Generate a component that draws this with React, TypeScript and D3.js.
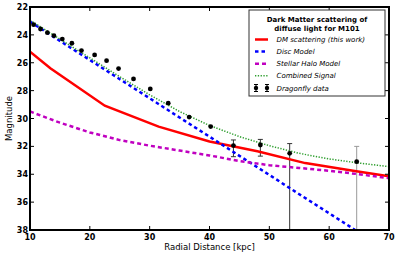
import React from "react";
import * as d3 from "d3";

// radial distance grid for model curves [kpc]
const modelX = [10, 15, 20, 25, 30, 35, 40, 45, 50, 55, 60, 65, 70];
const discModel = [23.05, 24.43, 25.8, 27.18, 28.55, 29.93, 31.3, 32.68, 34.05, 35.43, 36.8, 38.18, 39.55];
const haloModel = [29.5, 30.3, 31.0, 31.55, 31.95, 32.3, 32.65, 33.05, 33.35, 33.55, 33.75, 34.0, 34.28];
const combined = [22.95, 24.3, 25.65, 27.0, 28.3, 29.5, 30.5, 31.3, 31.95, 32.5, 32.9, 33.2, 33.45];

// DM scattering curve has its own (coarser) radial sampling
const dmX = [10, 13.4, 22.5, 31.5, 40, 48, 56, 64, 70];
const dmScatter = [25.2, 26.4, 29.08, 30.58, 31.65, 32.35, 33.2, 33.75, 34.15];

// Dragonfly profile
const dfX = [10.6, 11.75, 12.9, 14.0, 15.4, 17.0, 18.6, 20.8, 22.8, 24.8, 27.3, 30.1, 33.1, 36.6, 40.2, 44.0, 48.5, 53.4, 64.6];
const dfY = [23.27, 23.58, 23.84, 24.06, 24.3, 24.6, 25.13, 25.44, 25.85, 26.42, 27.16, 27.88, 28.9, 29.9, 30.58, 31.94, 31.9, 32.5, 33.1];
const dfErrUp = [0, 0, 0, 0, 0, 0, 0, 0, 0, 0, 0, 0, 0, 0, 0, 0.4, 0.4, 0.7, 1.1];
const dfErrDown = [0, 0, 0, 0, 0, 0, 0, 0, 0, 0, 0, 0, 0, 0, 0, 0.8, 0.8, 9, 9];

const xTicks = [10, 20, 30, 40, 50, 60, 70];
const yTicks = [22, 24, 26, 28, 30, 32, 34, 36, 38];

const legendTitle = ["Dark Matter scattering of", "diffuse light for M101"];
const legendItems = [
  { label: "DM scattering (this work)", color: "#ff0000", dash: "", width: 2.5 },
  { label: "Disc Model", color: "#0000ff", dash: "3.5,3", width: 2.5 },
  { label: "Stellar Halo Model", color: "#c000c0", dash: "4,3", width: 2.5 },
  { label: "Combined Signal", color: "#2e9e2e", dash: "1.3,1.5", width: 1.5 },
];

const W = 399;
const H = 256;
const margin = { top: 7, right: 10, bottom: 26, left: 30 };

const App = () => {
  const x = d3.scaleLinear().domain([10, 70]).range([margin.left, W - margin.right]);
  const y = d3.scaleLinear().domain([22, 38]).range([margin.top, H - margin.bottom]);

  const line = d3
    .line<[number, number]>()
    .x((d) => x(d[0]))
    .y((d) => y(d[1]));

  const series = [
    dmX.map((v, i) => [v, dmScatter[i]]),
    modelX.map((v, i) => [v, discModel[i]]),
    modelX.map((v, i) => [v, haloModel[i]]),
    modelX.map((v, i) => [v, combined[i]]),
  ];
  const font = "DejaVu Sans, sans-serif";
  const errColor = (i) => (i === dfX.length - 1 ? "#999" : "#333");

  const lx = 249;
  const ly = 10;

  return (
    <svg width={W} height={H} style={{ position: "absolute", left: 0, top: 0 }} fontFamily={font}>
      <defs>
        <clipPath id="plot">
          <rect x={x(10)} y={y(22)} width={x(70) - x(10)} height={y(38) - y(22)} />
        </clipPath>
      </defs>
      <rect width={W} height={H} fill="#fff" />

      <g clipPath="url(#plot)">
        {/* error bars */}
        {dfX.map((v, i) =>
          dfErrUp[i] > 0 ? (
            <g key={"e" + i} stroke={errColor(i)} strokeWidth={1}>
              <line x1={x(v)} x2={x(v)} y1={y(dfY[i] - dfErrUp[i])} y2={y(dfY[i] + dfErrDown[i])} />
              <line x1={x(v) - 2.5} x2={x(v) + 2.5} y1={y(dfY[i] - dfErrUp[i])} y2={y(dfY[i] - dfErrUp[i])} />
              <line x1={x(v) - 2.5} x2={x(v) + 2.5} y1={y(dfY[i] + dfErrDown[i])} y2={y(dfY[i] + dfErrDown[i])} />
            </g>
          ) : null
        )}
        {series.map((s, k) => (
          <path
            key={k}
            d={line(s)}
            fill="none"
            stroke={legendItems[k].color}
            strokeWidth={legendItems[k].width}
            strokeDasharray={legendItems[k].dash}
          />
        ))}
        {dfX.map((v, i) => (
          <circle key={"p" + i} cx={x(v)} cy={y(dfY[i])} r={2.4} fill="#000" />
        ))}
      </g>

      {/* ticks on all four sides, pointing inward */}
      <g stroke="#000" strokeWidth={1}>
        {xTicks.map((t) => (
          <g key={"xt" + t}>
            <line x1={x(t)} x2={x(t)} y1={y(38)} y2={y(38) - 4} />
            <line x1={x(t)} x2={x(t)} y1={y(22)} y2={y(22) + 4} />
          </g>
        ))}
        {yTicks.map((t) => (
          <g key={"yt" + t}>
            <line x1={x(10)} x2={x(10) + 4} y1={y(t)} y2={y(t)} />
            <line x1={x(70)} x2={x(70) - 4} y1={y(t)} y2={y(t)} />
          </g>
        ))}
      </g>
      <rect
        x={x(10)}
        y={y(22)}
        width={x(70) - x(10)}
        height={y(38) - y(22)}
        fill="none"
        stroke="#000"
        strokeWidth={2}
      />

      {xTicks.map((t) => (
        <text key={"xl" + t} x={x(t)} y={y(38) + 10} fontSize={8} fontWeight="bold" textAnchor="middle">
          {t}
        </text>
      ))}
      {yTicks.map((t) => (
        <text key={"yl" + t} x={x(10) - 2} y={y(t) + 3} fontSize={8} fontWeight="bold" textAnchor="end">
          {t}
        </text>
      ))}
      <text x={(x(10) + x(70)) / 2} y={250} fontSize={8.5} textAnchor="middle">
        Radial Distance [kpc]
      </text>
      <text
        transform={`translate(12,${(y(22) + y(38)) / 2}) rotate(-90)`}
        fontSize={8.5}
        textAnchor="middle"
      >
        Magnitude
      </text>

      {/* legend */}
      <rect x={lx} y={ly} width={136} height={86} fill="#fff" stroke="#333" strokeWidth={1} />
      {legendTitle.map((t, i) => (
        <text key={t} x={lx + 68} y={ly + 11.5 + i * 9.3} fontSize={7} fontWeight="bold" textAnchor="middle">
          {t}
        </text>
      ))}
      {legendItems.map((it, i) => (
        <g key={it.label}>
          <line
            x1={lx + 6}
            x2={lx + 19}
            y1={ly + 29.5 + i * 12.1}
            y2={ly + 29.5 + i * 12.1}
            stroke={it.color}
            strokeWidth={it.width}
            strokeDasharray={it.dash}
          />
          <text x={lx + 27.5} y={ly + 32 + i * 12.1} fontSize={7} fontStyle="italic">
            {it.label}
          </text>
        </g>
      ))}
      {[lx + 7, lx + 18].map((px) => (
        <g key={px} stroke="#000" strokeWidth={1}>
          <line x1={px} x2={px} y1={ly + 74.5} y2={ly + 81.5} />
          <line x1={px - 2} x2={px + 2} y1={ly + 74.5} y2={ly + 74.5} />
          <line x1={px - 2} x2={px + 2} y1={ly + 81.5} y2={ly + 81.5} />
          <circle cx={px} cy={ly + 78} r={2.2} fill="#000" stroke="none" />
        </g>
      ))}
      <text x={lx + 27.5} y={ly + 80.5} fontSize={7} fontStyle="italic">
        Dragonfly data
      </text>
    </svg>
  );
};

export default App;
